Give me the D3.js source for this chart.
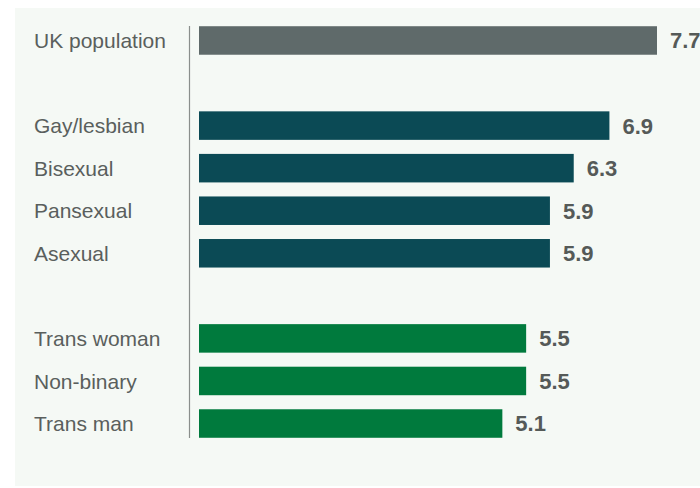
<!DOCTYPE html>
<html>
<head>
<meta charset="utf-8">
<script src="https://cdn.jsdelivr.net/npm/d3@7"></script>
<style>
  html, body { margin: 0; padding: 0; background: #ffffff; }
  svg { display: block; }
</style>
</head>
<body>
<svg id="chart" width="700" height="488"></svg>
<script>
// Groups of bars, separated by an empty row between groups
const categories = ["UK population", "Gay/lesbian", "Bisexual", "Pansexual", "Asexual", "Trans woman", "Non-binary", "Trans man"];
const values = [7.7, 6.9, 6.3, 5.9, 5.9, 5.5, 5.5, 5.1];
const groups = ["all", "orientation", "orientation", "orientation", "orientation", "gender", "gender", "gender"];
const groupColors = { all: "#5f6a6a", orientation: "#0b4a55", gender: "#007a3d" };

const svg = d3.select("#chart");
const W = 700, H = 488;

// light panel behind the chart
svg.append("rect")
  .attr("x", 15).attr("y", 8)
  .attr("width", W - 15).attr("height", H - 10)
  .attr("fill", "#f5f9f5");

// Row keys: insert a spacer wherever the group changes
const rows = [];
categories.forEach((c, i) => {
  if (i > 0 && groups[i] !== groups[i - 1]) rows.push("__gap" + i);
  rows.push(c);
});

const y = d3.scaleBand()
  .domain(rows)
  .range([19.2, 444.8])
  .paddingInner(0.33)
  .paddingOuter(0.165);

const x = d3.scaleLinear()
  .domain([0, 7.7])
  .range([199, 657]);

const data = categories.map((c, i) => ({ cat: c, value: values[i], group: groups[i] }));

// vertical baseline
svg.append("line")
  .attr("x1", 189.5).attr("x2", 189.5)
  .attr("y1", 26).attr("y2", 438)
  .attr("stroke", "#8a8f8c")
  .attr("stroke-width", 1.2);

// bars
svg.append("g").selectAll("rect")
  .data(data)
  .join("rect")
  .attr("x", x(0))
  .attr("y", d => y(d.cat))
  .attr("width", d => x(d.value) - x(0))
  .attr("height", y.bandwidth())
  .attr("fill", d => groupColors[d.group]);

// category labels
svg.append("g").selectAll("text")
  .data(data)
  .join("text")
  .attr("x", 34)
  .attr("y", d => y(d.cat) + y.bandwidth() / 2)
  .attr("dy", "0.36em")
  .attr("font-family", "Liberation Sans, Arial, sans-serif")
  .attr("font-size", 21)
  .attr("fill", "#5a5f5d")
  .text(d => d.cat);

// value labels
svg.append("g").selectAll("text")
  .data(data)
  .join("text")
  .attr("x", d => x(d.value) + 13)
  .attr("y", d => y(d.cat) + y.bandwidth() / 2)
  .attr("dy", "0.36em")
  .attr("font-family", "Liberation Sans, Arial, sans-serif")
  .attr("font-weight", "bold")
  .attr("font-size", 22)
  .attr("fill", "#555a58")
  .text(d => d3.format(".1f")(d.value));
</script>
</body>
</html>
